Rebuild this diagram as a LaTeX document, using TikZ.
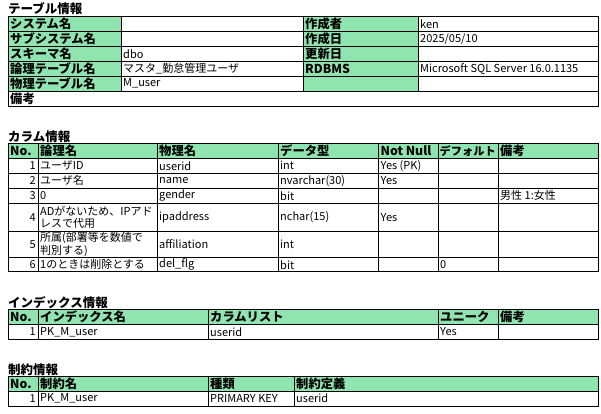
\documentclass[tikz,border=0pt]{standalone}
\usepackage{fontspec}
\setmainfont{Noto Sans CJK JP}
\definecolor{hdr}{RGB}{144,228,176}
\tikzset{
  cellline/.style={draw=black,line width=0.9pt},
  txt/.style={anchor=west,inner xsep=2pt,inner ysep=0pt,font=\fontsize{11}{12.5}\selectfont,align=left},
  htxt/.style={anchor=west,inner xsep=2pt,inner ysep=0pt,font=\fontsize{12.3}{13}\selectfont\bfseries},
  ntxt/.style={anchor=east,inner xsep=2pt,inner ysep=0pt,font=\fontsize{11}{12.5}\selectfont},
  ttl/.style={anchor=west,inner sep=0pt,font=\fontsize{12.5}{14}\selectfont\bfseries}
}
% cell with text: x1 y1 x2 y2 fill name text
\newcommand\tcell[7]{\filldraw[cellline,fill=#5] (#1,#2) rectangle (#3,#4);
  \node[txt] (#6) at (#1,{(#2+#4)/2}) {#7};}
% header cell
\newcommand\hcell[6]{\filldraw[cellline,fill=hdr] (#1,#2) rectangle (#3,#4);
  \node[htxt] (#5) at (#1,{(#2+#4)/2}) {#6};}
% number cell (right aligned)
\newcommand\ncell[6]{\filldraw[cellline,fill=white] (#1,#2) rectangle (#3,#4);
  \node[ntxt] (#5) at (#3,{(#2+#4)/2}) {#6};}
% blank cell
\newcommand\bcell[5]{\filldraw[cellline,fill=#5] (#1,#2) rectangle (#3,#4);}
\begin{document}
\begin{tikzpicture}[x=1pt,y=-1pt]
\useasboundingbox (0,0) rectangle (601,414);
% ===== テーブル情報 =====
\node[ttl] (t1) at (8,8.5) {テーブル情報};
\hcell{8}{16.5}{121}{31.5}{a1}{システム名}
\bcell{121}{16.5}{303}{31.5}{white}
\hcell{303}{16.5}{418}{31.5}{a2}{作成者}
\tcell{418}{16.5}{598}{31.5}{white}{a3}{ken}
\hcell{8}{31.5}{121}{46.5}{b1}{サブシステム名}
\bcell{121}{31.5}{303}{46.5}{white}
\hcell{303}{31.5}{418}{46.5}{b2}{作成日}
\tcell{418}{31.5}{598}{46.5}{white}{b3}{2025/05/10}
\hcell{8}{46.5}{121}{61.5}{c1}{スキーマ名}
\tcell{121}{46.5}{303}{61.5}{white}{c2}{dbo}
\hcell{303}{46.5}{418}{61.5}{c3}{更新日}
\bcell{418}{46.5}{598}{61.5}{white}
\hcell{8}{61.5}{121}{76}{d1}{論理テーブル名}
\tcell{121}{61.5}{303}{76}{white}{d2}{マスタ\_勤怠管理ユーザ}
\hcell{303}{61.5}{418}{76}{d3}{RDBMS}
\tcell{418}{61.5}{598}{76}{white}{d4}{Microsoft SQL Server 16.0.1135}
\hcell{8}{76}{121}{91}{e1}{物理テーブル名}
\tcell{121}{76}{303}{91}{white}{e2}{M\_user}
\bcell{303}{76}{418}{91}{hdr}
\bcell{418}{76}{598}{91}{white}
\filldraw[cellline,fill=white] (8,91) rectangle (598,106);
\node[htxt] (f1) at (8,98.5) {備考};
% ===== カラム情報 =====
\node[ttl] (t2) at (8,136.5) {カラム情報};
\hcell{8}{143.3}{38}{158.3}{h1}{No.}
\hcell{38}{143.3}{157}{158.3}{h2}{論理名}
\hcell{157}{143.3}{278}{158.3}{h3}{物理名}
\hcell{278}{143.3}{378.5}{158.3}{h4}{データ型}
\hcell{378.5}{143.3}{438}{158.3}{h5}{Not Null}
\filldraw[cellline,fill=hdr] (438,143.3) rectangle (498,158.3);
\node[htxt,font=\fontsize{11.2}{13}\selectfont\bfseries,inner xsep=1.5pt] (h6) at (438,150.8) {デフォルト};
\hcell{498}{143.3}{598}{158.3}{h7}{備考}
% row 1
\ncell{8}{158.3}{38}{173.3}{r1n}{1}
\tcell{38}{158.3}{157}{173.3}{white}{r1a}{ユーザID}
\tcell{157}{158.3}{278}{173.3}{white}{r1b}{userid}
\tcell{278}{158.3}{378.5}{173.3}{white}{r1c}{int}
\tcell{378.5}{158.3}{438}{173.3}{white}{r1d}{Yes (PK)}
\bcell{438}{158.3}{498}{173.3}{white}
\bcell{498}{158.3}{598}{173.3}{white}
% row 2
\ncell{8}{173.3}{38}{188.3}{r2n}{2}
\tcell{38}{173.3}{157}{188.3}{white}{r2a}{ユーザ名}
\tcell{157}{173.3}{278}{188.3}{white}{r2b}{name}
\tcell{278}{173.3}{378.5}{188.3}{white}{r2c}{nvarchar(30)}
\tcell{378.5}{173.3}{438}{188.3}{white}{r2d}{Yes}
\bcell{438}{173.3}{498}{188.3}{white}
\bcell{498}{173.3}{598}{188.3}{white}
% row 3
\ncell{8}{188.3}{38}{203.3}{r3n}{3}
\tcell{38}{188.3}{157}{203.3}{white}{r3a}{0}
\tcell{157}{188.3}{278}{203.3}{white}{r3b}{gender}
\tcell{278}{188.3}{378.5}{203.3}{white}{r3c}{bit}
\bcell{378.5}{188.3}{438}{203.3}{white}
\bcell{438}{188.3}{498}{203.3}{white}
\tcell{498}{188.3}{598}{203.3}{white}{r3g}{男性 1:女性}
% row 4
\ncell{8}{203.3}{38}{231}{r4n}{4}
\tcell{38}{203.3}{157}{231}{white}{r4a}{ADがないため、IPアド\\レスで代用}
\tcell{157}{203.3}{278}{231}{white}{r4b}{ipaddress}
\tcell{278}{203.3}{378.5}{231}{white}{r4c}{nchar(15)}
\tcell{378.5}{203.3}{438}{231}{white}{r4d}{Yes}
\bcell{438}{203.3}{498}{231}{white}
\bcell{498}{203.3}{598}{231}{white}
% row 5
\ncell{8}{231}{38}{257.7}{r5n}{5}
\tcell{38}{231}{157}{257.7}{white}{r5a}{所属(部署等を数値で\\判別する)}
\tcell{157}{231}{278}{257.7}{white}{r5b}{affiliation}
\tcell{278}{231}{378.5}{257.7}{white}{r5c}{int}
\bcell{378.5}{231}{438}{257.7}{white}
\bcell{438}{231}{498}{257.7}{white}
\bcell{498}{231}{598}{257.7}{white}
% row 6
\ncell{8}{257.7}{38}{271.7}{r6n}{6}
\tcell{38}{257.7}{157}{271.7}{white}{r6a}{1のときは削除とする}
\tcell{157}{257.7}{278}{271.7}{white}{r6b}{del\_flg}
\tcell{278}{257.7}{378.5}{271.7}{white}{r6c}{bit}
\bcell{378.5}{257.7}{438}{271.7}{white}
\tcell{438}{257.7}{498}{271.7}{white}{r6e}{0}
\bcell{498}{257.7}{598}{271.7}{white}
% ===== インデックス情報 =====
\node[ttl] (t3) at (8,303) {インデックス情報};
\hcell{8}{309.3}{38}{324.3}{i1}{No.}
\hcell{38}{309.3}{208}{324.3}{i2}{インデックス名}
\hcell{208}{309.3}{438}{324.3}{i3}{カラムリスト}
\hcell{438}{309.3}{498}{324.3}{i4}{ユニーク}
\hcell{498}{309.3}{598}{324.3}{i5}{備考}
\ncell{8}{324.3}{38}{339.3}{j1}{1}
\tcell{38}{324.3}{208}{339.3}{white}{j2}{PK\_M\_user}
\tcell{208}{324.3}{438}{339.3}{white}{j3}{userid}
\tcell{438}{324.3}{498}{339.3}{white}{j4}{Yes}
\bcell{498}{324.3}{598}{339.3}{white}
% ===== 制約情報 =====
\node[ttl] (t4) at (8,369.5) {制約情報};
\hcell{8}{376}{38}{391}{k1}{No.}
\hcell{38}{376}{208}{391}{k2}{制約名}
\hcell{208}{376}{294}{391}{k3}{種類}
\hcell{294}{376}{598}{391}{k4}{制約定義}
\ncell{8}{391}{38}{406}{m1}{1}
\tcell{38}{391}{208}{406}{white}{m2}{PK\_M\_user}
\tcell{208}{391}{294}{406}{white}{m3}{PRIMARY KEY}
\tcell{294}{391}{598}{406}{white}{m4}{userid}
\end{tikzpicture}
\end{document}
